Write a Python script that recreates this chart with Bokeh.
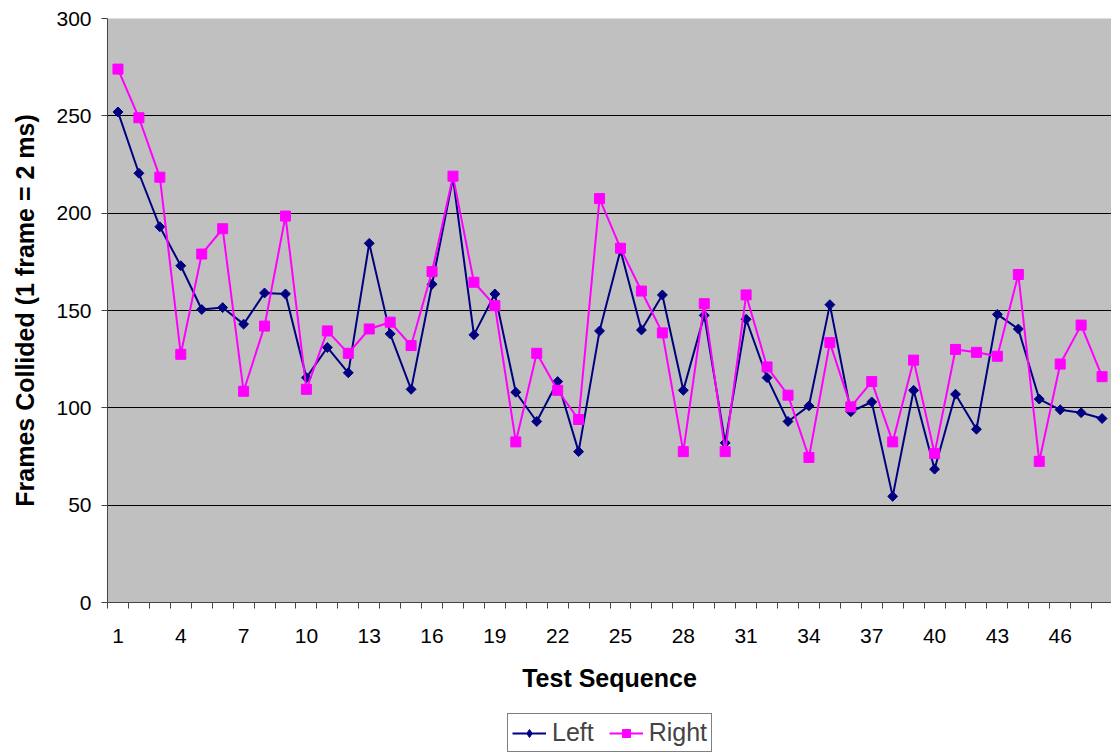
from bokeh.plotting import figure
from bokeh.models import Range1d, FixedTicker, Legend, LegendItem
from bokeh.layouts import column
from bokeh.embed import file_html
from bokeh.resources import INLINE

sequence = list(range(1, 49))
left_vals = [252, 220.5, 193, 173, 150.5, 151.5, 143, 159, 158.5, 115.5,
             131, 118, 184.5, 138, 109.5, 163.5, 218, 137.5, 158.5, 108,
             93, 113.5, 77.5, 139.5, 181, 140, 158, 109, 147.5, 82,
             145.5, 115.5, 93, 101, 153, 98, 103, 54.5, 109, 68.5,
             107, 89, 148, 140.5, 104.5, 99, 97.5, 94.5]
right_vals = [274, 249, 218.5, 127.5, 179, 192, 108.5, 142, 198.5, 109.5,
              139.5, 128, 140.5, 144, 132, 170, 219, 164.5, 152.5, 82.5,
              128, 109, 94, 207.5, 182, 160, 138.5, 77.5, 153.5, 77.5,
              158, 121, 106.5, 74.5, 133.5, 100.5, 113.5, 82.5, 124.5, 76.5,
              130, 128.5, 126.5, 168.5, 72.5, 122.5, 142.5, 116]
x_tick_labels = list(range(1, 49, 3))
y_ticks = [0, 50, 100, 150, 200, 250, 300]
series_names = ["Left", "Right"]

FONT = "Liberation Sans"
LEFT_COLOR = "#000080"
RIGHT_COLOR = "#FF00FF"

p = figure(width=1111, height=700,
           min_border_left=107, min_border_top=18, min_border_right=0,
           min_border_bottom=98,
           x_range=Range1d(0.5, 48.45), y_range=Range1d(0, 300),
           output_backend="svg", toolbar_location=None,
           background_fill_color="#C0C0C0", border_fill_color="white")
p.outline_line_color = None

# x axis
p.xaxis.ticker = FixedTicker(ticks=x_tick_labels,
                             minor_ticks=[i + 0.5 for i in range(0, 49)])
p.xaxis.major_tick_out = 0
p.xaxis.major_tick_in = 0
p.xaxis.minor_tick_out = 6
p.xaxis.minor_tick_in = 0
p.xaxis.minor_tick_line_color = "#444444"
p.xaxis.axis_line_color = "#444444"
p.xaxis.major_label_text_font = FONT
p.xaxis.major_label_text_font_size = "21px"
p.xaxis.major_label_text_color = "black"
p.xaxis.major_label_standoff = 20
p.xaxis.axis_label = "Test Sequence"
p.xaxis.axis_label_text_font = FONT
p.xaxis.axis_label_text_font_size = "25px"
p.xaxis.axis_label_text_font_style = "bold"
p.xaxis.axis_label_text_color = "black"
p.xaxis.axis_label_standoff = 18

# y axis
p.yaxis.ticker = FixedTicker(ticks=y_ticks)
p.yaxis.major_tick_out = 6
p.yaxis.major_tick_in = 0
p.yaxis.minor_tick_out = 0
p.yaxis.minor_tick_in = 0
p.yaxis.major_tick_line_color = "#444444"
p.yaxis.axis_line_color = "#444444"
p.yaxis.major_label_text_font = FONT
p.yaxis.major_label_text_font_size = "21px"
p.yaxis.major_label_text_color = "black"
p.yaxis.major_label_standoff = 10
p.yaxis.axis_label = "Frames Collided (1 frame = 2 ms)"
p.yaxis.axis_label_text_font = FONT
p.yaxis.axis_label_text_font_size = "25px"
p.yaxis.axis_label_text_font_style = "bold"
p.yaxis.axis_label_text_color = "black"
p.yaxis.axis_label_standoff = 14

p.xgrid.grid_line_color = None
p.ygrid.ticker = FixedTicker(ticks=[50, 100, 150, 200, 250, 300])
p.ygrid.grid_line_color = "black"
p.ygrid.grid_line_width = 1

p.line(sequence, left_vals, line_color=LEFT_COLOR, line_width=2)
p.scatter(sequence, left_vals, marker="square", angle=0.785398, size=7,
          fill_color=LEFT_COLOR, line_color=LEFT_COLOR)
p.line(sequence, right_vals, line_color=RIGHT_COLOR, line_width=2)
p.scatter(sequence, right_vals, marker="square", size=10,
          fill_color=RIGHT_COLOR, line_color=RIGHT_COLOR)

# legend strip below the chart (series drawn out of view, only the legend shows)
q = figure(width=1111, height=53, min_border=0,
           x_range=Range1d(0, 1), y_range=Range1d(0, 1),
           output_backend="svg", toolbar_location=None,
           background_fill_color="white", border_fill_color="white")
q.axis.visible = False
q.grid.visible = False
q.outline_line_color = None
ql1 = q.line(sequence, left_vals, line_color=LEFT_COLOR, line_width=2)
qm1 = q.scatter(sequence, left_vals, marker="diamond", size=12,
                fill_color=LEFT_COLOR, line_color=LEFT_COLOR)
ql2 = q.line(sequence, right_vals, line_color=RIGHT_COLOR, line_width=2)
qm2 = q.scatter(sequence, right_vals, marker="square", size=10,
                fill_color=RIGHT_COLOR, line_color=RIGHT_COLOR)

legend = Legend(items=[LegendItem(label=series_names[0], renderers=[ql1, qm1]),
                       LegendItem(label=series_names[1], renderers=[ql2, qm2])],
                orientation="horizontal", location=(400, 1),
                label_text_font=FONT, label_text_font_size="25px",
                glyph_width=34, glyph_height=20, label_standoff=6,
                spacing=15, padding=4, margin=0,
                border_line_color="black", border_line_width=1,
                background_fill_color="white", background_fill_alpha=1)
q.add_layout(legend, "center")

layout = column(p, q, spacing=0)
open("out.html", "w").write(file_html(layout, INLINE))
